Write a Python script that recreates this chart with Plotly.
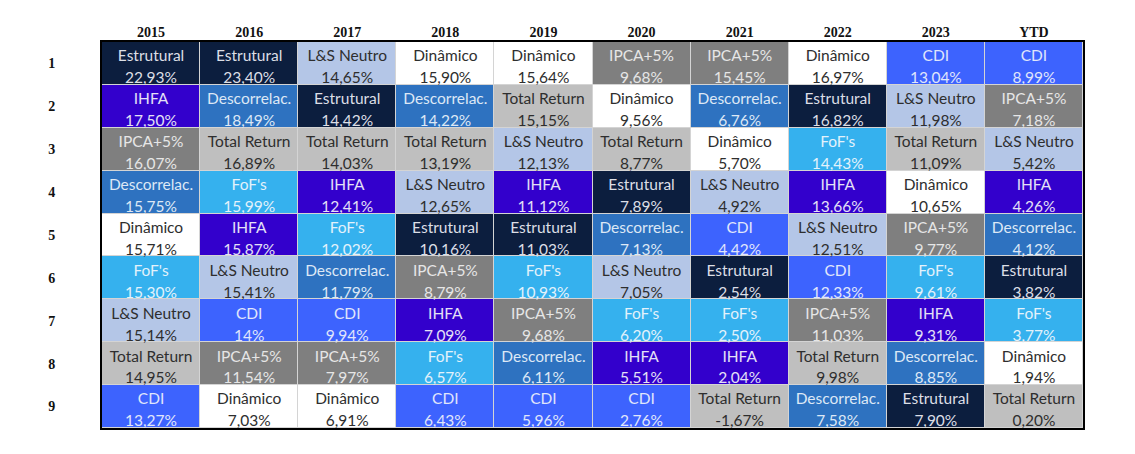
import plotly.graph_objects as go

years = ["2015", "2016", "2017", "2018", "2019", "2020", "2021", "2022", "2023", "YTD"]
ranks = ["1", "2", "3", "4", "5", "6", "7", "8", "9"]

categories = ["Estrutural", "IHFA", "IPCA+5%", "Descorrelac.", "Dinâmico",
              "FoF's", "L&S Neutro", "Total Return", "CDI"]
category_colors = ["#0c1e3e", "#3300cc", "#7f7f7f", "#2e72c0", "#ffffff",
                   "#35b1ee", "#b4c6e7", "#bfbfbf", "#3d63fe"]
category_text_colors = ["#dcdfe6", "#e4e0f6", "#e6e6e6", "#dde8f6", "#2e2e2e",
                        "#e3f2fb", "#2e2e2e", "#2e2e2e", "#e0e6fb"]

names_2015 = ["Estrutural", "IHFA", "IPCA+5%", "Descorrelac.", "Dinâmico", "FoF's", "L&S Neutro", "Total Return", "CDI"]
returns_2015 = ["22,93%", "17,50%", "16,07%", "15,75%", "15,71%", "15,30%", "15,14%", "14,95%", "13,27%"]
names_2016 = ["Estrutural", "Descorrelac.", "Total Return", "FoF's", "IHFA", "L&S Neutro", "CDI", "IPCA+5%", "Dinâmico"]
returns_2016 = ["23,40%", "18,49%", "16,89%", "15,99%", "15,87%", "15,41%", "14%", "11,54%", "7,03%"]
names_2017 = ["L&S Neutro", "Estrutural", "Total Return", "IHFA", "FoF's", "Descorrelac.", "CDI", "IPCA+5%", "Dinâmico"]
returns_2017 = ["14,65%", "14,42%", "14,03%", "12,41%", "12,02%", "11,79%", "9,94%", "7,97%", "6,91%"]
names_2018 = ["Dinâmico", "Descorrelac.", "Total Return", "L&S Neutro", "Estrutural", "IPCA+5%", "IHFA", "FoF's", "CDI"]
returns_2018 = ["15,90%", "14,22%", "13,19%", "12,65%", "10,16%", "8,79%", "7,09%", "6,57%", "6,43%"]
names_2019 = ["Dinâmico", "Total Return", "L&S Neutro", "IHFA", "Estrutural", "FoF's", "IPCA+5%", "Descorrelac.", "CDI"]
returns_2019 = ["15,64%", "15,15%", "12,13%", "11,12%", "11,03%", "10,93%", "9,68%", "6,11%", "5,96%"]
names_2020 = ["IPCA+5%", "Dinâmico", "Total Return", "Estrutural", "Descorrelac.", "L&S Neutro", "FoF's", "IHFA", "CDI"]
returns_2020 = ["9,68%", "9,56%", "8,77%", "7,89%", "7,13%", "7,05%", "6,20%", "5,51%", "2,76%"]
names_2021 = ["IPCA+5%", "Descorrelac.", "Dinâmico", "L&S Neutro", "CDI", "Estrutural", "FoF's", "IHFA", "Total Return"]
returns_2021 = ["15,45%", "6,76%", "5,70%", "4,92%", "4,42%", "2,54%", "2,50%", "2,04%", "-1,67%"]
names_2022 = ["Dinâmico", "Estrutural", "FoF's", "IHFA", "L&S Neutro", "CDI", "IPCA+5%", "Total Return", "Descorrelac."]
returns_2022 = ["16,97%", "16,82%", "14,43%", "13,66%", "12,51%", "12,33%", "11,03%", "9,98%", "7,58%"]
names_2023 = ["CDI", "L&S Neutro", "Total Return", "Dinâmico", "IPCA+5%", "FoF's", "IHFA", "Descorrelac.", "Estrutural"]
returns_2023 = ["13,04%", "11,98%", "11,09%", "10,65%", "9,77%", "9,61%", "9,31%", "8,85%", "7,90%"]
names_ytd = ["CDI", "IPCA+5%", "L&S Neutro", "IHFA", "Descorrelac.", "Estrutural", "FoF's", "Dinâmico", "Total Return"]
returns_ytd = ["8,99%", "7,18%", "5,42%", "4,26%", "4,12%", "3,82%", "3,77%", "1,94%", "0,20%"]

names_by_year = [names_2015, names_2016, names_2017, names_2018, names_2019,
                 names_2020, names_2021, names_2022, names_2023, names_ytd]
returns_by_year = [returns_2015, returns_2016, returns_2017, returns_2018, returns_2019,
                   returns_2020, returns_2021, returns_2022, returns_2023, returns_ytd]

# heatmap matrix of category indices (rows = ranks, cols = years)
z = [[categories.index(names_by_year[j][i]) for j in range(len(years))] for i in range(len(ranks))]
n = len(categories)
colorscale = []
for k, c in enumerate(category_colors):
    colorscale.append([k / n, c])
    colorscale.append([(k + 1) / n, c])

px_x, px_y, txt_name, txt_ret, txt_col = [], [], [], [], []
for j, yr in enumerate(years):
    for i, rk in enumerate(ranks):
        nm = names_by_year[j][i]
        px_x.append(yr)
        px_y.append(rk)
        txt_name.append(nm)
        txt_ret.append(returns_by_year[j][i])
        txt_col.append(category_text_colors[categories.index(nm)])

cell_font = "Lato"
cell_size = 15.5
text_shift = 0.08  # vertical nudge of labels (in row units) via an overlaid axis

fig = go.Figure()
fig.add_trace(go.Heatmap(
    x=years, y=ranks, z=z, colorscale=colorscale, zmin=-0.5, zmax=n - 0.5,
    showscale=False, xgap=1, ygap=1, hoverinfo="skip"))
fig.add_trace(go.Scatter(
    x=px_x, y=px_y, yaxis="y2", mode="markers+text", text=txt_name, textposition="top center",
    marker=dict(size=1, opacity=0),
    textfont=dict(family=cell_font, size=cell_size, color=txt_col), hoverinfo="skip", showlegend=False))
fig.add_trace(go.Scatter(
    x=px_x, y=px_y, yaxis="y2", mode="markers+text", text=txt_ret, textposition="bottom center",
    marker=dict(size=6, opacity=0),
    textfont=dict(family=cell_font, size=cell_size, color=txt_col), hoverinfo="skip", showlegend=False))

fig.update_layout(
    width=1127, height=446,
    margin=dict(l=94, r=52, t=34, b=26),
    paper_bgcolor="white", plot_bgcolor="#d4d4d4",
    showlegend=False,
    yaxis2=dict(type="category", overlaying="y", visible=False, categoryarray=ranks,
                range=[len(ranks) - 0.5 - text_shift, -0.5 - text_shift]),
)
fig.update_xaxes(
    type="category", side="top", showgrid=False, zeroline=False, ticks="",
    showline=True, mirror=True, linecolor="black", linewidth=2,
    ticklabelstandoff=-3,
    tickfont=dict(family="Liberation Serif", size=14, color="#111111", weight="bold"),
    range=[-0.5, len(years) - 0.5])
fig.update_layout(yaxis=dict(
    type="category", showgrid=False, zeroline=False, ticks="",
    showline=True, mirror=True, linecolor="black", linewidth=2,
    ticklabelstandoff=42,
    tickfont=dict(family="Liberation Serif", size=14, color="#111111", weight="bold"),
    range=[len(ranks) - 0.5, -0.5]))

fig.write_html("out.html")
